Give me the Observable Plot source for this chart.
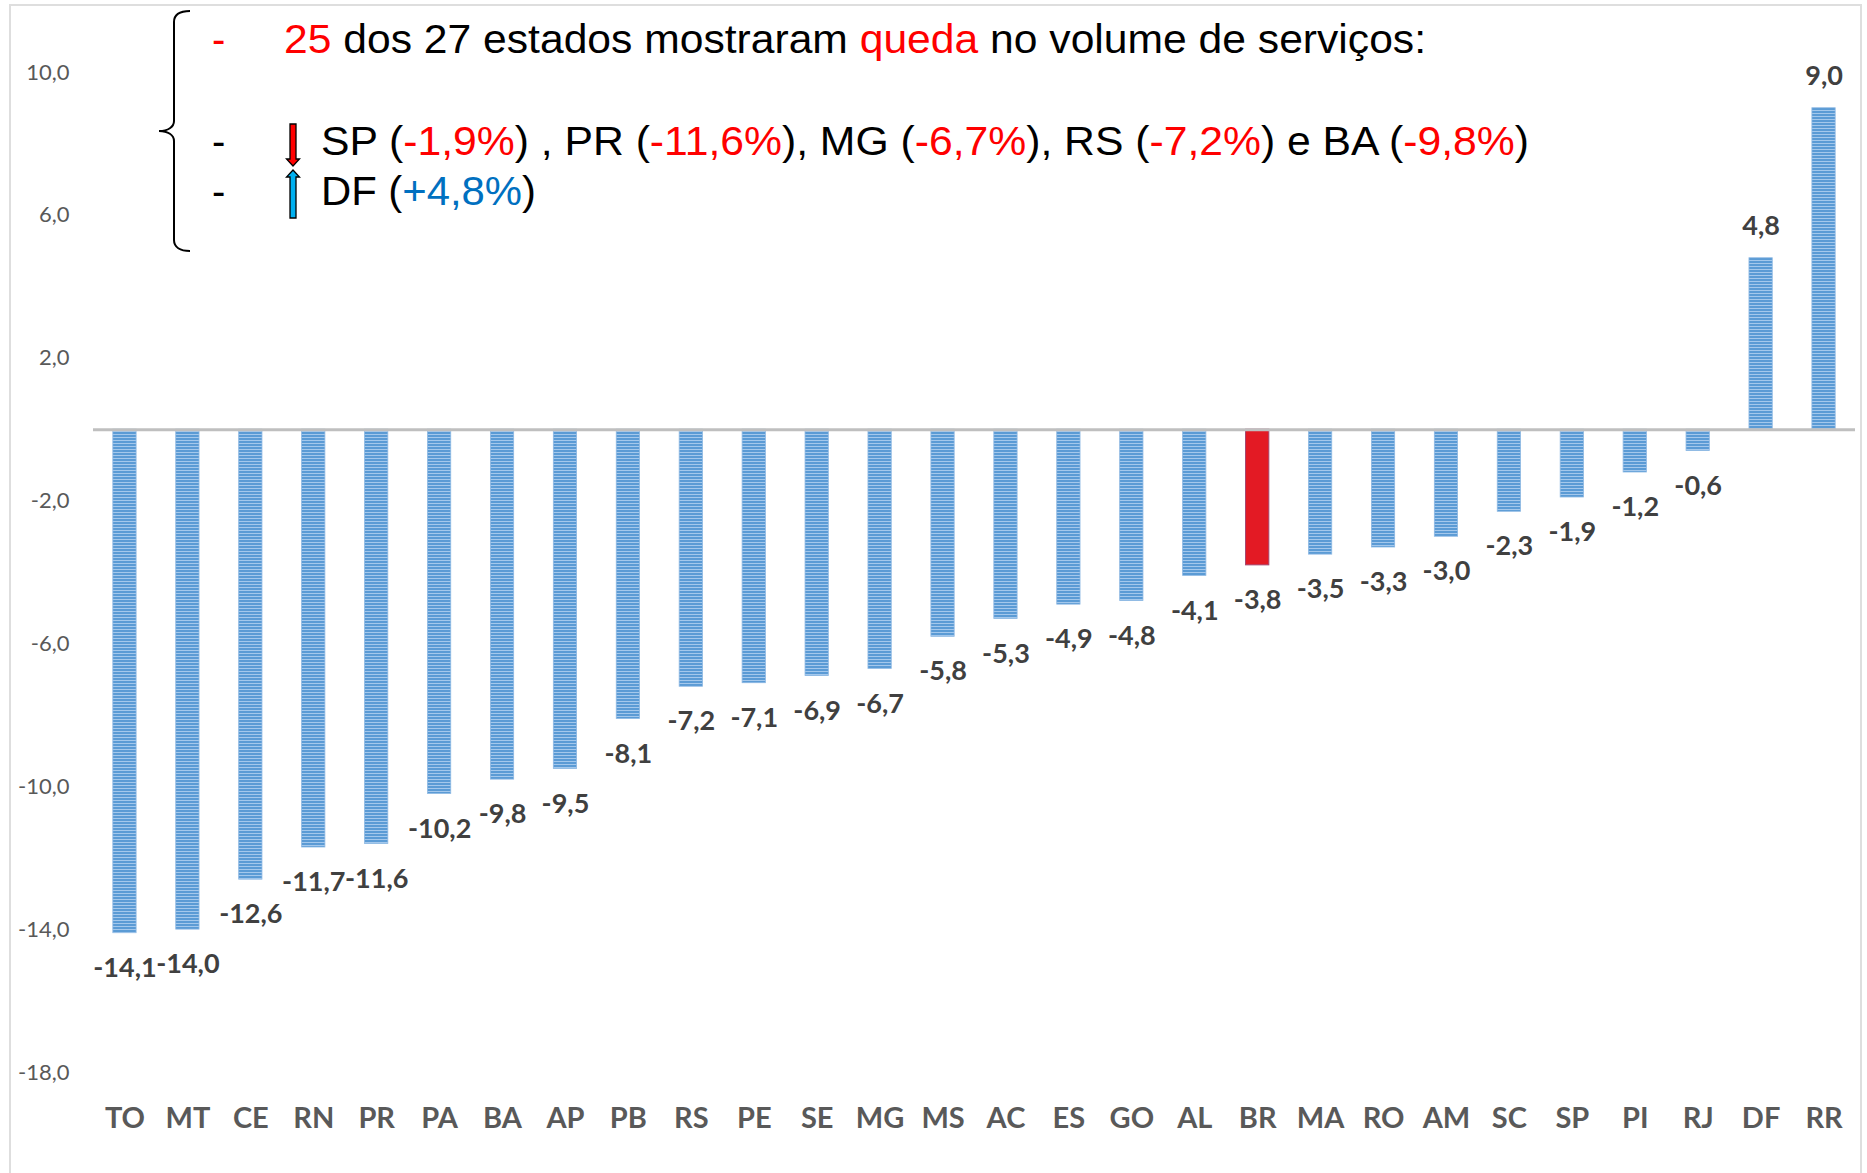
<!DOCTYPE html>
<html><head><meta charset="utf-8">
<script src="https://cdn.jsdelivr.net/npm/d3@7"></script>
<script src="https://cdn.jsdelivr.net/npm/@observablehq/plot@0.6"></script>
<style>
html,body{margin:0;padding:0;background:#fff;}
#wrap{position:relative;width:1867px;height:1173px;overflow:hidden;background:#fff;}
#chart{position:absolute;left:0;top:0;}
#frame{position:absolute;left:9px;top:4px;width:1853px;height:1200px;border:2px solid #dedede;box-sizing:border-box;pointer-events:none;}
#note{position:absolute;left:0;top:0;pointer-events:none;}
</style></head><body>
<div id="wrap">
<div id="chart"></div>
<div id="frame"></div>
<svg id="note" width="1867" height="300" font-family="'Liberation Sans', Arial, sans-serif" font-size="40" fill="#000">
  <path d="M190,11 C180,11 174,14 174,22 L174,121 C174,127 168,131 159,131 C168,131 174,135 174,141 L174,240 C174,247 180,251 190,251" fill="none" stroke="#000" stroke-width="2"/>
  <text x="212" y="53" fill="#ff0000">-</text>
  <text x="284" y="53" textLength="1142" lengthAdjust="spacingAndGlyphs"><tspan fill="#ff0000">25</tspan> dos 27 estados mostraram <tspan fill="#ff0000">queda</tspan> no volume de serviços:</text>
  <text x="212" y="155">-</text>
  <path d="M290,124 H296 V159 H299.5 L293,166 L286.5,159 H290 Z" fill="#ff0000" stroke="#000" stroke-width="1.3"/>
  <text x="321" y="155" textLength="1208" lengthAdjust="spacingAndGlyphs">SP (<tspan fill="#ff0000">-1,9%</tspan>) , PR (<tspan fill="#ff0000">-11,6%</tspan>), MG (<tspan fill="#ff0000">-6,7%</tspan>), RS (<tspan fill="#ff0000">-7,2%</tspan>) e BA (<tspan fill="#ff0000">-9,8%</tspan>)</text>
  <text x="212" y="205">-</text>
  <path d="M293,170 L299.5,177 H296 V218 H290 V177 H286.5 Z" fill="#00b0f0" stroke="#000" stroke-width="1.3"/>
  <text x="321" y="205" textLength="215" lengthAdjust="spacingAndGlyphs">DF (<tspan fill="#0070c0">+4,8%</tspan>)</text>
</svg>
</div>
<script>
const states = ["TO","MT","CE","RN","PR","PA","BA","AP","PB","RS","PE","SE","MG","MS","AC","ES","GO","AL","BR","MA","RO","AM","SC","SP","PI","RJ","DF","RR"];
const values = [-14.1,-14.0,-12.6,-11.7,-11.6,-10.2,-9.8,-9.5,-8.1,-7.2,-7.1,-6.9,-6.7,-5.8,-5.3,-4.9,-4.8,-4.1,-3.8,-3.5,-3.3,-3.0,-2.3,-1.9,-1.2,-0.6,4.8,9.0];
const yTicks = [10,6,2,-2,-6,-10,-14,-18];
const highlight = "BR";

const data = states.map((s, i) => ({state: s, value: values[i]}));
const loc = d3.formatLocale({decimal: ",", thousands: ".", grouping: [3], currency: ["", ""], minus: "-"});
const fmt = loc.format(".1f");

const svg = Plot.plot({
  width: 1867,
  height: 1173,
  marginLeft: 93,
  marginRight: 12,
  marginTop: 72,
  marginBottom: 101,
  style: {fontFamily: "Lato, 'Open Sans', sans-serif", background: "transparent"},
  x: {domain: states, paddingInner: 0.63, paddingOuter: 0.315, round: false, label: null},
  y: {domain: [-18, 10], label: null},
  marks: [
    Plot.axisY(yTicks, {tickSize: 0, tickPadding: 24, tickFormat: fmt, fontSize: 22, color: "#595959", label: null}),
    Plot.axisX({tickSize: 0, tickPadding: 35, fontSize: 29, fontWeight: "bold", color: "#595959", label: null}),
    Plot.barY(data.filter(d => d.state !== highlight), {x: "state", y: "value", fill: "url(#stripes)", stroke: "#8db8e3", strokeWidth: 0.8}),
    Plot.barY(data.filter(d => d.state === highlight), {x: "state", y: "value", fill: "#e31a24", stroke: "#a3466f", strokeWidth: 1}),
    Plot.ruleY([0], {stroke: "#bfbfbf", strokeWidth: 3}),
    Plot.text(data.filter(d => d.value < 0), {x: "state", y: "value", text: d => fmt(d.value), dy: 35, fontSize: 27, fontWeight: "bold", fill: "#404040"}),
    Plot.text(data.filter(d => d.value >= 0), {x: "state", y: "value", text: d => fmt(d.value), dy: -32, fontSize: 27, fontWeight: "bold", fill: "#404040"})
  ]
});

const ns = "http://www.w3.org/2000/svg";
const defs = document.createElementNS(ns, "defs");
defs.innerHTML = '<pattern id="stripes" width="6" height="3" patternUnits="userSpaceOnUse"><rect width="6" height="3" fill="#5b9bd5"/><rect y="2" width="6" height="1" fill="#a4c8ec"/></pattern>';
svg.insertBefore(defs, svg.firstChild);
document.getElementById("chart").appendChild(svg);
</script>
</body></html>
